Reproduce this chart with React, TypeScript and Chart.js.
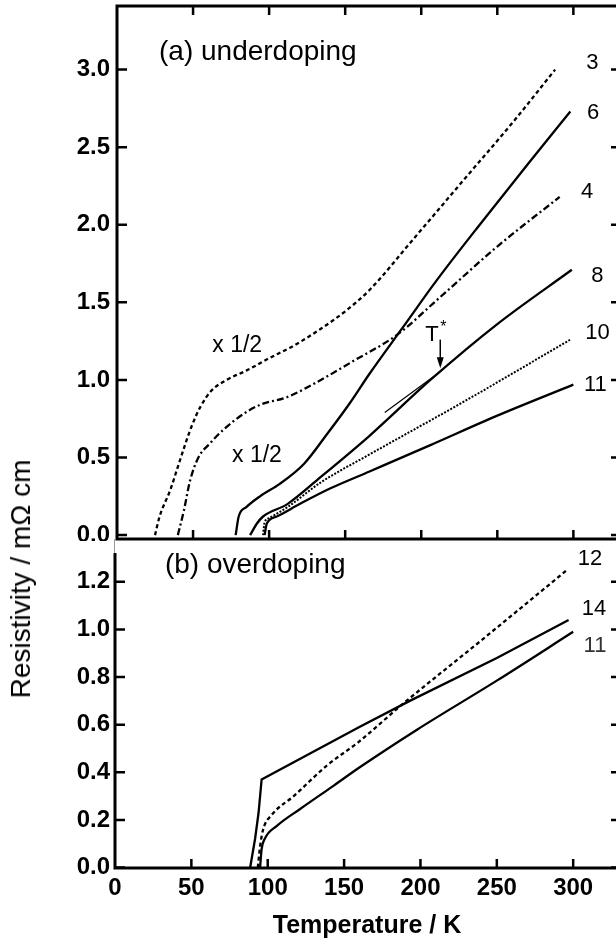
import React, { useEffect, useRef } from 'react';
import { Chart, registerables } from 'chart.js';

Chart.register(...registerables);

const FONT = '"Liberation Sans", Arial, Helvetica, sans-serif';

// ---------- Panel (a) underdoping ----------
const A3_T = [25, 28, 35, 40, 45, 49, 55, 62, 72, 85, 100, 116, 134, 151, 166, 195, 228, 261, 288];
const A3_R = [0, 0.12, 0.29, 0.44, 0.59, 0.7, 0.83, 0.93, 1.0, 1.06, 1.14, 1.22, 1.33, 1.45, 1.58, 1.91, 2.29, 2.67, 3.0];

const A4_T = [40, 44, 48, 53.5, 61, 70, 83, 94, 112, 134, 155, 184, 212, 250, 291];
const A4_R = [0, 0.16, 0.35, 0.5, 0.59, 0.68, 0.78, 0.84, 0.89, 1.0, 1.12, 1.29, 1.53, 1.86, 2.18];

const A6_T = [78, 80, 85, 94, 107, 123, 138, 153, 166, 188, 210, 240, 270, 298];
const A6_R = [0, 0.12, 0.18, 0.25, 0.33, 0.46, 0.65, 0.85, 1.04, 1.34, 1.64, 2.02, 2.39, 2.73];

const A8_T = [87.5, 92, 96, 112, 134, 166, 206, 250, 299];
const A8_R = [0, 0.075, 0.12, 0.2, 0.375, 0.64, 1.0, 1.36, 1.71];

const FIT_T = [176, 212];
const FIT_R = [0.79, 1.05];

const A10_T = [96, 97, 100, 112, 134, 166, 228, 298];
const A10_R = [0, 0.08, 0.11, 0.18, 0.34, 0.52, 0.86, 1.26];

const A11_T = [97, 98.5, 105, 120, 140, 166, 206, 250, 300];
const A11_R = [0, 0.075, 0.12, 0.2, 0.3, 0.41, 0.58, 0.77, 0.97];

// ---------- Panel (b) overdoping ----------
const B12_T = [93.5, 95, 97, 102.5, 117, 139, 159, 189, 240, 296];
const B12_R = [0, 0.09, 0.16, 0.22, 0.3, 0.43, 0.525, 0.69, 0.955, 1.25];

const B14_T = [88.5, 91.7, 94, 96, 160, 193, 250, 297];
const B14_R = [0, 0.12, 0.23, 0.37, 0.59, 0.7, 0.88, 1.04];

const B11_T = [95, 96, 98, 106, 121, 143, 160, 198, 250, 300];
const B11_R = [0, 0.077, 0.12, 0.175, 0.245, 0.343, 0.42, 0.58, 0.785, 0.99];

// ---------- Ticks ----------
const X_TICKS = [0, 50, 100, 150, 200, 250, 300];
const Y_TICKS_A = [0, 0.5, 1.0, 1.5, 2.0, 2.5, 3.0];
const Y_TICKS_B = [0, 0.2, 0.4, 0.6, 0.8, 1.0, 1.2];

// ---------- Text annotations (data coordinates) ----------
const LABELS_A = [
  { text: '(a) underdoping', t: 27.6, r: 3.11, size: 28, align: 'left' },
  { text: '3', t: 312.5, r: 3.04, size: 22 },
  { text: '6', t: 313, r: 2.72, size: 22 },
  { text: '4', t: 309, r: 2.21, size: 22 },
  { text: '8', t: 315.8, r: 1.67, size: 22 },
  { text: '10', t: 315.8, r: 1.3, size: 22 },
  { text: '11', t: 314.5, r: 0.97, size: 22 },
  { text: 'x 1/2', t: 79, r: 1.22, size: 23 },
  { text: 'x 1/2', t: 92, r: 0.515, size: 23 },
  { text: 'T', t: 207, r: 1.29, size: 22 },
  { text: '*', t: 214.5, r: 1.335, size: 16 },
];
const ARROW_A = { t: 212.5, from: 1.26, to: 1.075 };

const LABELS_B = [
  { text: '(b) overdoping', t: 32.7, r: 1.27, size: 28, align: 'left' },
  { text: '12', t: 311, r: 1.295, size: 22 },
  { text: '14', t: 313.7, r: 1.086, size: 22 },
  { text: '11', t: 314.3, r: 0.93, size: 22, color: '#333' },
];

function series(T: number[], R: number[], extra: any = {}) {
  return {
    data: T.map((t, i) => ({ x: t, y: R[i] })),
    showLine: true,
    pointRadius: 0,
    borderColor: '#000',
    backgroundColor: '#000',
    borderWidth: 2.3,
    fill: false,
    cubicInterpolationMode: 'monotone',
    ...extra,
  };
}

const decorPlugin = {
  id: 'decor',
  afterDatasetsDraw(chart: any, _args: any, opts: any) {
    const { ctx, chartArea: a, scales } = chart;
    const xs = scales.x;
    const ys = scales.y;
    ctx.save();
    ctx.strokeStyle = '#000';
    ctx.fillStyle = '#000';
    ctx.lineCap = 'butt';

    ctx.lineWidth = 3;
    if (opts.full) {
      ctx.strokeRect(a.left, a.top, a.right - a.left, a.bottom - a.top);
    } else {
      ctx.beginPath();
      ctx.moveTo(a.left, a.top + 14);
      ctx.lineTo(a.left, a.bottom + 1.5);
      ctx.moveTo(a.left - 1.5, a.bottom);
      ctx.lineTo(a.right + 1.5, a.bottom);
      ctx.moveTo(a.right, a.top);
      ctx.lineTo(a.right, a.bottom);
      ctx.stroke();
      ctx.lineWidth = 1;
      ctx.strokeStyle = '#999';
      ctx.beginPath();
      ctx.moveTo(a.left - 0.5, a.top);
      ctx.lineTo(a.left - 0.5, a.top + 14);
      ctx.stroke();
      ctx.strokeStyle = '#000';
    }

    ctx.lineWidth = 2.5;
    ctx.beginPath();
    for (const v of opts.yTicks) {
      const py = ys.getPixelForValue(v);
      ctx.moveTo(a.left, py);
      ctx.lineTo(a.left + 10, py);
      ctx.moveTo(a.right - 8, py);
      ctx.lineTo(a.right, py);
    }
    for (const v of X_TICKS) {
      if (v === 0) continue;
      const px = xs.getPixelForValue(v);
      ctx.moveTo(px, a.bottom);
      ctx.lineTo(px, a.bottom - 9);
      if (opts.full) {
        ctx.moveTo(px, a.top);
        ctx.lineTo(px, a.top + 9);
      }
    }
    ctx.stroke();

    if (opts.arrow) {
      const px = xs.getPixelForValue(opts.arrow.t);
      const y1 = ys.getPixelForValue(opts.arrow.from);
      const y2 = ys.getPixelForValue(opts.arrow.to);
      ctx.lineWidth = 1.5;
      ctx.beginPath();
      ctx.moveTo(px, y1);
      ctx.lineTo(px, y2 - 8);
      ctx.stroke();
      ctx.beginPath();
      ctx.moveTo(px, y2);
      ctx.lineTo(px - 3.5, y2 - 11);
      ctx.lineTo(px + 3.5, y2 - 11);
      ctx.closePath();
      ctx.fill();
    }

    ctx.textBaseline = 'middle';
    for (const l of opts.labels) {
      ctx.font = `${l.size}px ${FONT}`;
      ctx.fillStyle = l.color || '#000';
      ctx.textAlign = l.align || 'center';
      ctx.fillText(l.text, xs.getPixelForValue(l.t), ys.getPixelForValue(l.r));
    }
    ctx.restore();
  },
};

export default function App() {
  const topRef = useRef<HTMLCanvasElement>(null);
  const botRef = useRef<HTMLCanvasElement>(null);

  useEffect(() => {
    const tickFont = { family: FONT, size: 24, weight: 'bold' as const };

    const chartA = new Chart(topRef.current as HTMLCanvasElement, {
      type: 'scatter',
      data: {
        datasets: [
          series(A3_T, A3_R, { borderDash: [4, 3] }),
          series(A6_T, A6_R),
          series(A4_T, A4_R, { borderDash: [7, 3, 2, 3] }),
          series(A8_T, A8_R),
          series(FIT_T, FIT_R, { borderWidth: 1.2, cubicInterpolationMode: 'default', tension: 0 }),
          series(A10_T, A10_R, { borderDash: [2, 1.5], borderWidth: 2 }),
          series(A11_T, A11_R),
        ] as any,
      },
      options: {
        responsive: false,
        animation: false,
        devicePixelRatio: 1,
        layout: { padding: { top: 6, right: 21, bottom: 2, left: 0 } },
        plugins: {
          legend: { display: false },
          tooltip: { enabled: false },
          decor: { full: true, yTicks: Y_TICKS_A, labels: LABELS_A, arrow: ARROW_A },
        } as any,
        scales: {
          x: { type: 'linear', min: 0, max: 330, display: false },
          y: {
            type: 'linear',
            min: -0.025,
            max: 3.41,
            grid: { display: false, drawTicks: false, tickLength: 0 },
            border: { display: false },
            afterBuildTicks: (s: any) => {
              s.ticks = Y_TICKS_A.map((v) => ({ value: v }));
            },
            afterFit: (s: any) => {
              s.width = 117;
              s.paddingTop = 0;
              s.paddingBottom = 0;
            },
            ticks: {
              font: tickFont,
              color: '#000',
              padding: 7,
              autoSkip: false,
              callback: (v: any) => Number(v).toFixed(1),
            },
          },
        } as any,
      },
      plugins: [decorPlugin],
    });

    const chartB = new Chart(botRef.current as HTMLCanvasElement, {
      type: 'scatter',
      data: {
        datasets: [
          series(B12_T, B12_R, { borderDash: [4, 3] }),
          series(B14_T, B14_R, { cubicInterpolationMode: 'default', tension: 0 }),
          series(B11_T, B11_R),
        ] as any,
      },
      options: {
        responsive: false,
        animation: false,
        devicePixelRatio: 1,
        layout: { padding: { top: 0, right: 21, bottom: 0, left: 0 } },
        plugins: {
          legend: { display: false },
          tooltip: { enabled: false },
          decor: { full: false, yTicks: Y_TICKS_B, labels: LABELS_B },
        } as any,
        scales: {
          x: {
            type: 'linear',
            min: 0,
            max: 330,
            grid: { display: false, drawTicks: false, tickLength: 0 },
            border: { display: false },
            afterBuildTicks: (s: any) => {
              s.ticks = X_TICKS.map((v) => ({ value: v }));
            },
            afterFit: (s: any) => {
              s.height = 75;
              s.paddingLeft = 0;
              s.paddingRight = 0;
            },
            ticks: {
              font: tickFont,
              color: '#000',
              padding: 6,
              maxRotation: 0,
              autoSkip: false,
              callback: (v: any) => String(v),
            },
            title: {
              display: true,
              text: 'Temperature / K',
              color: '#000',
              font: { family: FONT, size: 25, weight: 'bold' },
              padding: { top: 0, bottom: 2 },
            },
          },
          y: {
            type: 'linear',
            min: -0.002,
            max: 1.38,
            grid: { display: false, drawTicks: false, tickLength: 0 },
            border: { display: false },
            afterBuildTicks: (s: any) => {
              s.ticks = Y_TICKS_B.map((v) => ({ value: v }));
            },
            afterFit: (s: any) => {
              s.width = 115;
              s.paddingTop = 0;
              s.paddingBottom = 0;
            },
            ticks: {
              font: tickFont,
              color: '#000',
              padding: 5,
              autoSkip: false,
              callback: (v: any) => Number(v).toFixed(1),
            },
          },
        } as any,
      },
      plugins: [decorPlugin],
    });

    return () => {
      chartA.destroy();
      chartB.destroy();
    };
  }, []);

  const titleStyle: any = {
    position: 'absolute',
    left: 21,
    top: 579,
    transform: 'translate(-50%, -50%) rotate(-90deg)',
    font: `28px ${FONT}`,
    whiteSpace: 'nowrap',
    lineHeight: 1,
    color: '#000',
  };

  return (
    <div
      style={{
        position: 'absolute',
        left: 0,
        top: 0,
        width: 616,
        height: 943,
        overflow: 'hidden',
        background: '#fff',
      }}
    >
      <canvas
        ref={topRef}
        width={640}
        height={541}
        style={{ position: 'absolute', left: 0, top: 0, width: 640, height: 541 }}
      />
      <canvas
        ref={botRef}
        width={640}
        height={404}
        style={{ position: 'absolute', left: 0, top: 539, width: 640, height: 404 }}
      />
      <div style={titleStyle}>Resistivity / mΩ cm</div>
    </div>
  );
}
